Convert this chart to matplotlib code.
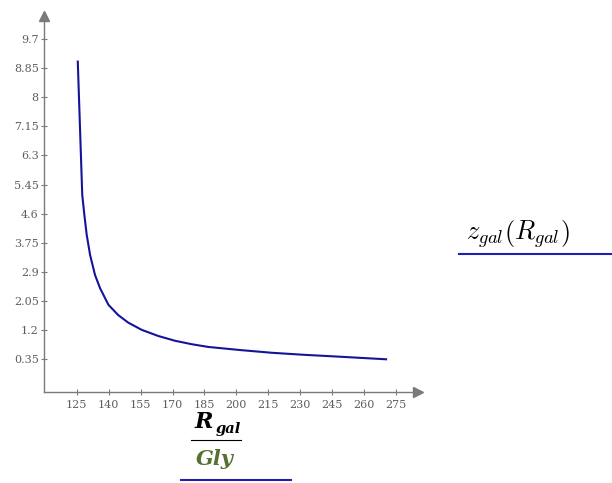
import matplotlib
matplotlib.use('Agg')
import matplotlib.pyplot as plt
from matplotlib.lines import Line2D

# R_gal / Gly 与 z_gal 的读数
r_gal = [125.5, 126.6, 127.6, 128.6, 129.7, 131.3, 133.6, 136.0, 139.9, 144.5,
         149.2, 155.5, 163.3, 171.2, 179.0, 186.8, 201.7, 216.6, 232.0, 247.1,
         270.3]
z_gal = [9.04, 7.0, 5.15, 4.56, 3.98, 3.39, 2.81, 2.42, 1.94, 1.64,
         1.42, 1.21, 1.03, 0.89, 0.79, 0.71, 0.62, 0.54, 0.48, 0.43,
         0.35]

x_ticks = [125, 140, 155, 170, 185, 200, 215, 230, 245, 260, 275]
y_ticks = [0.35, 1.2, 2.05, 2.9, 3.75, 4.6, 5.45, 6.3, 7.15, 8, 8.85, 9.7]
y_labels = ['0.35', '1.2', '2.05', '2.9', '3.75', '4.6', '5.45', '6.3', '7.15', '8', '8.85', '9.7']

W, H = 612, 483
fig = plt.figure(figsize=(W / 100, H / 100), dpi=100)
ax = fig.add_axes([43.5 / W, 91 / H, (418 - 43.5) / W, (392 - 16) / H])

ax.plot(r_gal, z_gal, color='#14149a', lw=1.5, solid_joinstyle='round')

ax.set_xlim(109.4, 285.3)
ax.set_ylim(-0.605, 10.37)

grey = '#7a7a7a'
for s in ['top', 'right']:
    ax.spines[s].set_visible(False)
for s in ['left', 'bottom']:
    ax.spines[s].set_color(grey)
    ax.spines[s].set_linewidth(1.0)

# 箭头
ax.plot(1, 0, '>', color=grey, ms=7, transform=ax.transAxes, clip_on=False)
ax.plot(0, 1, '^', color=grey, ms=7, transform=ax.transAxes, clip_on=False)

ax.set_xticks(x_ticks)
ax.set_yticks(y_ticks)
ax.set_yticklabels(y_labels)
ax.tick_params(direction='inout', length=5, width=0.8, color=grey,
               labelcolor='#5e5e5e', labelsize=8)
ax.tick_params(axis='y', pad=1.0)
ax.tick_params(axis='x', pad=3)
for lab in ax.get_xticklabels() + ax.get_yticklabels():
    lab.set_family('DejaVu Serif')

plt.rcParams['mathtext.fontset'] = 'cm'

# x 轴标签
fig.text(204 / W, 1 - 422 / H, 'R', ha='center', va='center', fontsize=16,
         color='black', family='DejaVu Serif', style='italic', fontweight='bold')
fig.text(216 / W, 1 - 429 / H, 'gal', ha='left', va='center', fontsize=10.5,
         color='black', family='DejaVu Serif', style='italic', fontweight='bold')
fig.add_artist(Line2D([191 / W, 241 / W], [1 - 440 / H, 1 - 440 / H], color='black', lw=0.8))
fig.text(215 / W, 1 - 459 / H, 'Gly', ha='center', va='center', fontsize=15,
         color='#55702f', family='DejaVu Serif', style='italic', fontweight='bold')
fig.add_artist(Line2D([181 / W, 291 / W], [1 - 480 / H, 1 - 480 / H], color='#1e1eb0', lw=1.5))

# y 轴标签
fig.text(518 / W, 1 - 234 / H, r'$z_{gal}\left(R_{gal}\right)$', ha='center', va='center',
         fontsize=19, color='black')
fig.add_artist(Line2D([459 / W, 612 / W], [1 - 254 / H, 1 - 254 / H], color='#1e1eb0', lw=1.5))

fig.savefig('out.png', dpi=100)
